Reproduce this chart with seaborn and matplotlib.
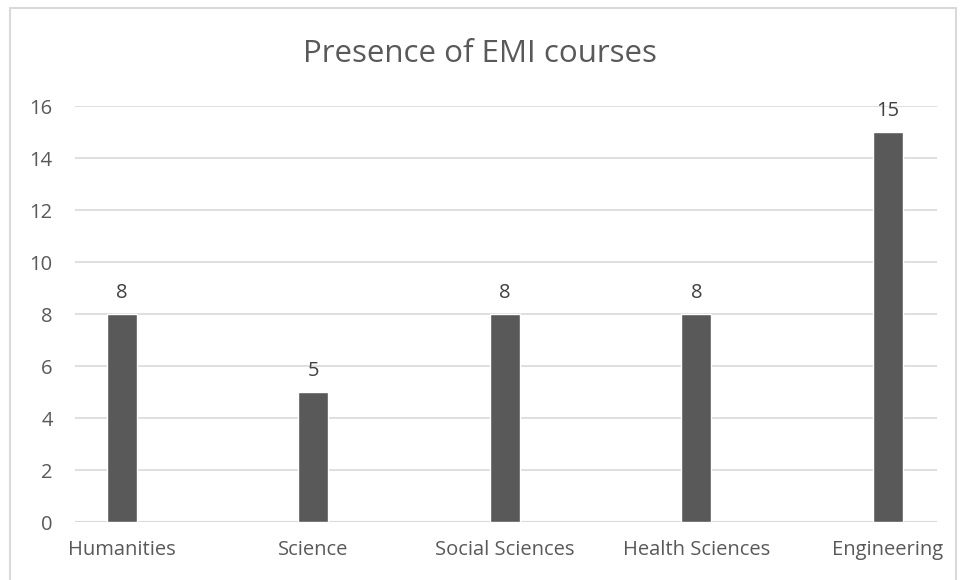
import matplotlib
matplotlib.use("Agg")
import matplotlib.pyplot as plt
import seaborn as sns
import pandas as pd

# data
fields = ['Humanities', 'Science', 'Social Sciences', 'Health Sciences', 'Engineering']
courses = [8, 5, 8, 8, 15]

df = pd.DataFrame({'field': fields, 'courses': courses})

sns.set_theme(style='white')
plt.rcParams['font.family'] = ['Open Sans', 'DejaVu Sans']

fig = plt.figure(figsize=(9.6, 5.8), dpi=100)
ax = fig.add_axes([75 / 960, 1 - 522 / 580, (937 - 75) / 960, (522 - 106) / 580])

sns.barplot(data=df, x='field', y='courses', color='#595959', width=0.157,
            saturation=1, ax=ax, zorder=3)

ax.set_xlim(-0.245, 4.256)
ax.set_ylim(0, 16)
ax.set_yticks(range(0, 17, 2))
ax.yaxis.grid(True, color='#d9d9d9', linewidth=1.2, zorder=0)
ax.xaxis.grid(False)
for s in ax.spines.values():
    s.set_visible(False)
ax.axhline(0, color='#d9d9d9', linewidth=1.5, zorder=2)

ax.set_xlabel('')
ax.set_ylabel('')
ax.tick_params(axis='both', length=0, labelsize=14.5, labelcolor='#595959')
ax.tick_params(axis='y', pad=16)
ax.tick_params(axis='x', pad=13)

for c in ax.containers:
    ax.bar_label(c, fmt='%d', padding=8, fontsize=14.5, color='#404040')

fig.suptitle('Presence of EMI courses', y=1 - 54 / 580, va='center',
             fontsize=22.5, color='#595959')

# light chart border like the spreadsheet chart frame
fig.patches.append(plt.Rectangle((10 / 960, -0.01), 946 / 960, 1 - 8 / 580 + 0.01,
                                 transform=fig.transFigure, fill=False,
                                 edgecolor='#d9d9d9', linewidth=1.5))

fig.savefig('out.png', dpi=100)
